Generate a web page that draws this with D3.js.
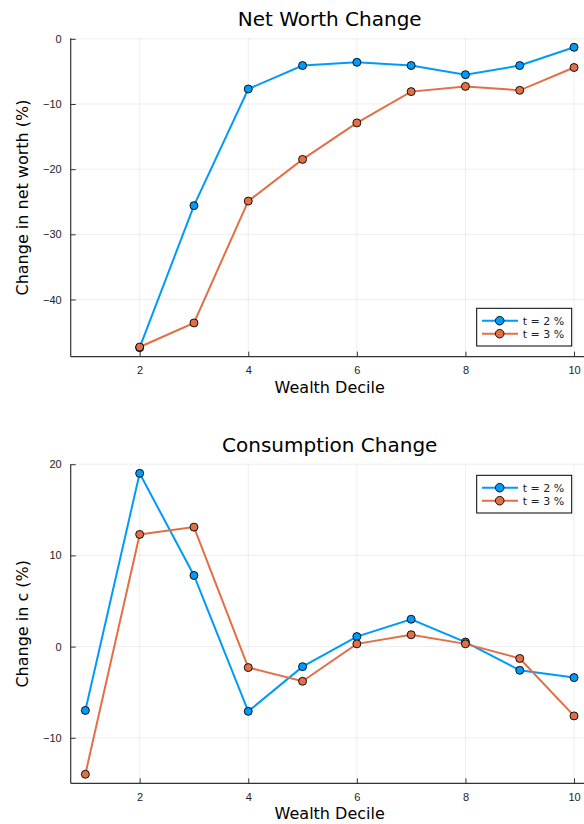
<!DOCTYPE html>
<html>
<head>
<meta charset="utf-8">
<script src="https://cdn.jsdelivr.net/npm/d3@7"></script>
<style>
  body { margin: 0; background: #fff; }
  svg { display: block; font-family: "DejaVu Sans", sans-serif; }
</style>
</head>
<body>
<svg id="chart" width="584" height="824"></svg>
<script>
// wealth deciles on the x axis
var deciles = [1, 2, 3, 4, 5, 6, 7, 8, 9, 10];
var seriesNames = ["t = 2 %", "t = 3 %"];
var xTicks = [2, 4, 6, 8, 10];

// net worth change (%), decile 1 has no value
var netWorth2 = [null, -47.4, -25.6, -7.7, -4.1, -3.6, -4.1, -5.5, -4.1, -1.3];
var netWorth3 = [null, -47.3, -43.6, -24.9, -18.5, -12.9, -8.1, -7.3, -7.9, -4.4];
var netWorthTicks = [0, -10, -20, -30, -40];

// consumption change (%)
var cons2 = [-7.0, 19.0, 7.8, -7.1, -2.2, 1.1, 3.0, 0.5, -2.6, -3.4];
var cons3 = [-14.0, 12.3, 13.1, -2.3, -3.8, 0.3, 1.3, 0.3, -1.3, -7.6];
var consTicks = [20, 10, 0, -10];

var colors = ["#009af9", "#e26f46"];

// Plots.jl style axis widening (3% each side)
function widen(ext) {
    var pad = (ext[1] - ext[0]) * 0.03;
    return [ext[0] - pad, ext[1] + pad];
}

function minus(v) { return String(v).replace("-", "\u2212"); }

var svg = d3.select("#chart");

function subplot(opts) {
    var left = 70.7, right = 588.7;
    var g = svg.append("g");

    var x = d3.scaleLinear().domain(widen(d3.extent(deciles))).range([left, right]);
    var allY = opts.series[0].concat(opts.series[1]).filter(function(v) { return v != null; });
    var y = d3.scaleLinear().domain(widen(d3.extent(allY))).range([opts.bottom, opts.top]);

    // grid
    g.selectAll(".gx").data(xTicks).enter().append("line")
        .attr("x1", function(d) { return x(d); }).attr("x2", function(d) { return x(d); })
        .attr("y1", opts.top).attr("y2", opts.bottom)
        .attr("stroke", "#000").attr("stroke-opacity", 0.1).attr("stroke-width", 0.7);
    g.selectAll(".gy").data(opts.yTicks).enter().append("line")
        .attr("x1", left).attr("x2", right)
        .attr("y1", function(d) { return y(d); }).attr("y2", function(d) { return y(d); })
        .attr("stroke", "#000").attr("stroke-opacity", 0.1).attr("stroke-width", 0.7);

    // axes (inward ticks, no domain path)
    var xAxis = g.append("g").attr("transform", "translate(0," + opts.bottom + ")")
        .call(d3.axisBottom(x).tickValues(xTicks).tickSizeInner(-5).tickSizeOuter(0).tickPadding(10));
    var yAxis = g.append("g").attr("transform", "translate(" + left + ",0)")
        .call(d3.axisLeft(y).tickValues(opts.yTicks).tickSizeInner(-5).tickSizeOuter(0).tickPadding(9).tickFormat(minus));
    [xAxis, yAxis].forEach(function(a) {
        a.select(".domain").remove();
        a.selectAll(".tick line").attr("stroke", "#333").attr("stroke-width", 1);
        a.selectAll(".tick text").attr("fill", "#222").style("font-size", "11px");
    });

    // frame: left and bottom spines
    g.append("line").attr("x1", left).attr("x2", right).attr("y1", opts.bottom).attr("y2", opts.bottom)
        .attr("stroke", "#333").attr("stroke-width", 1.2);
    g.append("line").attr("x1", left).attr("x2", left).attr("y1", opts.top).attr("y2", opts.bottom)
        .attr("stroke", "#333").attr("stroke-width", 1.2);

    // title and labels
    g.append("text").attr("x", (left + right) / 2).attr("y", opts.top - 12)
        .attr("text-anchor", "middle").style("font-size", "20px").attr("fill", "#000").text(opts.title);
    g.append("text").attr("x", (left + right) / 2).attr("y", opts.bottom + 36)
        .attr("text-anchor", "middle").style("font-size", "16px").attr("fill", "#000").text("Wealth Decile");
    g.append("text")
        .attr("transform", "translate(28," + (opts.top + opts.bottom) / 2 + ") rotate(-90)")
        .attr("text-anchor", "middle").style("font-size", "16px").attr("fill", "#000").text(opts.yLabel);

    var line = d3.line()
        .defined(function(d) { return d.v != null; })
        .x(function(d) { return x(d.x); })
        .y(function(d) { return y(d.v); });

    opts.series.forEach(function(vals, i) {
        var pts = deciles.map(function(d, j) { return { x: d, v: vals[j] }; });
        g.append("path").datum(pts).attr("d", line)
            .attr("fill", "none").attr("stroke", colors[i]).attr("stroke-width", 2);
        g.selectAll(".pt" + i).data(pts.filter(function(p) { return p.v != null; })).enter().append("circle")
            .attr("cx", function(d) { return x(d.x); }).attr("cy", function(d) { return y(d.v); })
            .attr("r", 4).attr("fill", colors[i]).attr("stroke", "#000").attr("stroke-width", 0.9);
    });

    // legend
    var lg = g.append("g").attr("transform", "translate(476.7," + opts.legendTop + ")");
    lg.append("rect").attr("width", 95).attr("height", 37.7)
        .attr("fill", "#fff").attr("stroke", "#000").attr("stroke-width", 1);
    seriesNames.forEach(function(name, i) {
        var yy = 12.4 + i * 13;
        lg.append("line").attr("x1", 5.3).attr("x2", 41.3).attr("y1", yy).attr("y2", yy)
            .attr("stroke", colors[i]).attr("stroke-width", 2);
        lg.append("circle").attr("cx", 23).attr("cy", yy).attr("r", 4.3)
            .attr("fill", colors[i]).attr("stroke", "#000").attr("stroke-width", 0.9);
        lg.append("text").attr("x", 46).attr("y", yy).attr("dy", "0.36em")
            .style("font-size", "11px").attr("fill", "#222").text(name);
    });
}

subplot({
    title: "Net Worth Change",
    yLabel: "Change in net worth (%)",
    series: [netWorth2, netWorth3],
    yTicks: netWorthTicks,
    top: 38.3, bottom: 356.7,
    legendTop: 308.3
});

subplot({
    title: "Consumption Change",
    yLabel: "Change in c (%)",
    series: [cons2, cons3],
    yTicks: consTicks,
    top: 464.3, bottom: 783.3,
    legendTop: 475.3
});
</script>
</body>
</html>
